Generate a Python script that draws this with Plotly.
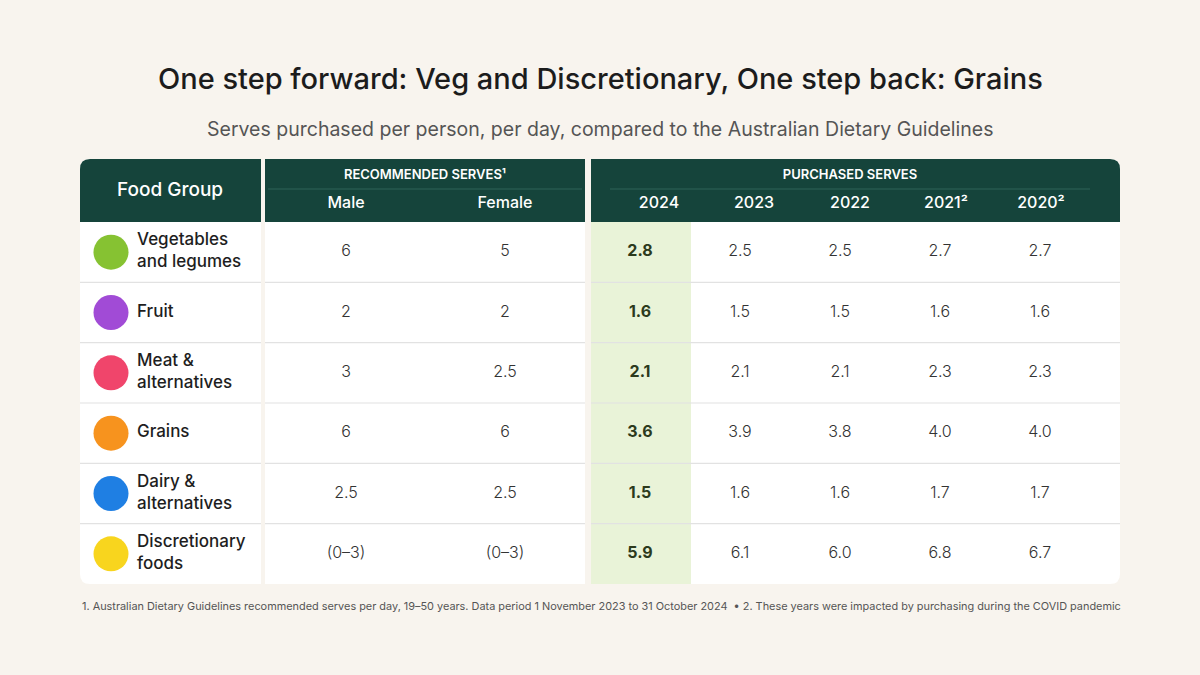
"""Serves purchased per person vs Australian Dietary Guidelines — tabla en Plotly."""

import plotly.graph_objects as go

# --- datos ---
food_groups = ["Vegetables<br>and legumes", "Fruit", "Meat &<br>alternatives",
               "Grains", "Dairy &<br>alternatives", "Discretionary<br>foods"]
rec_male = ["6", "2", "3", "6", "2.5", "(0–3)"]
rec_female = ["5", "2", "2.5", "6", "2.5", "(0–3)"]
year_labels = ["2024", "2023", "2022", "2021²", "2020²"]
p2024 = [2.8, 1.6, 2.1, 3.6, 1.5, 5.9]
p2023 = [2.5, 1.5, 2.1, 3.9, 1.6, 6.1]
p2022 = [2.5, 1.5, 2.1, 3.8, 1.6, 6.0]
p2021 = [2.7, 1.6, 2.3, 4.0, 1.7, 6.8]
p2020 = [2.7, 1.6, 2.3, 4.0, 1.7, 6.7]

title = "One step forward: Veg and Discretionary, One step back: Grains"
subtitle = "Serves purchased per person, per day, compared to the Australian Dietary Guidelines"
footnote = ("1. Australian Dietary Guidelines recommended serves per day, 19–50 years. "
            "Data period 1 November 2023 to 31 October 2024  • 2. These years were "
            "impacted by purchasing during the COVID pandemic")

# --- estilo / geometría ---
FONT = "Inter"
BG = "#F8F4EE"
GREEN = "#15443B"
icon_colors = ["#86C232", "#A14BD6", "#F0456B", "#F7931E", "#1F7FE3", "#F8D51E"]

top_head, top_body, bottom = 159, 222, 584
n_rows = len(food_groups)
row_h = (bottom - top_body) / n_rows
row_c = [top_body + row_h * (i + 0.5) for i in range(n_rows)]
panels = [(80, 261), (265, 585), (591, 1120)]
rec_x = [346, 505]
val_x = [640, 740, 840, 940, 1040]
year_x = [659, 754, 850, 946, 1041]


def rrect(x0, y0, x1, y1, tl=0, tr=0, br=0, bl=0):
    return (f"M {x0 + tl},{y0} L {x1 - tr},{y0} Q {x1},{y0} {x1},{y0 + tr} "
            f"L {x1},{y1 - br} Q {x1},{y1} {x1 - br},{y1} "
            f"L {x0 + bl},{y1} Q {x0},{y1} {x0},{y1 - bl} "
            f"L {x0},{y0 + tl} Q {x0},{y0} {x0 + tl},{y0} Z")


shapes = []
radii = [(10, 0, 0, 10), (0, 0, 0, 0), (0, 10, 10, 0)]
for (x0, x1), (tl, tr, br, bl) in zip(panels, radii):
    shapes.append(dict(type="path", path=rrect(x0, top_head, x1, bottom, tl, tr, br, bl),
                       fillcolor="white", line_width=0, layer="below"))
    shapes.append(dict(type="path", path=rrect(x0, top_head, x1, top_body, tl, tr, 0, 0),
                       fillcolor=GREEN, line_width=0, layer="below"))
# columna 2024 resaltada
shapes.append(dict(type="rect", x0=591, x1=691, y0=top_body, y1=bottom,
                   fillcolor="#E9F3D8", line_width=0, layer="below"))
# separadores de filas
for i in range(1, n_rows):
    y = top_body + row_h * i
    for x0, x1 in panels:
        shapes.append(dict(type="line", x0=x0, x1=x1, y0=y, y1=y,
                           line=dict(color="#E2E2E2", width=1.2), layer="below"))
# líneas bajo los encabezados de grupo
shapes.append(dict(type="line", x0=268, x1=582, y0=189, y1=189,
                   line=dict(color="#2F6258", width=1)))
shapes.append(dict(type="line", x0=610, x1=1090, y0=189, y1=189,
                   line=dict(color="#2F6258", width=1)))

fig = go.Figure()


def text_trace(x, y, text, size, color, pos="middle center", weight=400):
    fig.add_trace(go.Scatter(
        x=x, y=y, text=text, mode="text", textposition=pos, hoverinfo="skip",
        textfont=dict(family=FONT, size=size, color=color, weight=weight),
        showlegend=False,
    ))


# encabezados
text_trace([170], [191], ["Food Group"], 19, "white", weight=500)
text_trace([425], [176], ["RECOMMENDED SERVES¹"], 13, "white", weight=600)
text_trace([850], [176], ["PURCHASED SERVES"], 13, "white", weight=600)
text_trace(rec_x, [204, 204], ["Male", "Female"], 16, "white", weight=500)
text_trace(year_x, [204] * len(year_x), year_labels, 16, "white", weight=500)

# iconos y grupos
fig.add_trace(go.Scatter(
    x=[111] * n_rows, y=row_c, mode="markers", hoverinfo="skip", showlegend=False,
    marker=dict(size=35, color=icon_colors, line_width=0),
))
text_trace([137] * n_rows, row_c, food_groups, 17, "#1E1E1E", pos="middle right", weight=500)

# valores recomendados
text_trace([rec_x[0]] * n_rows, row_c, rec_male, 16, "#333333", weight=300)
text_trace([rec_x[1]] * n_rows, row_c, rec_female, 16, "#333333", weight=300)

# valores comprados
for j, serie in enumerate([p2024, p2023, p2022, p2021, p2020]):
    labels = [f"{v:.1f}" for v in serie]
    if j == 0:
        text_trace([val_x[j]] * n_rows, row_c, labels, 16, "#2C3A1C", weight=700)
    else:
        text_trace([val_x[j]] * n_rows, row_c, labels, 16, "#333333", weight=300)

fig.update_layout(
    width=1200, height=675,
    margin=dict(l=0, r=0, t=0, b=0),
    paper_bgcolor=BG, plot_bgcolor=BG,
    xaxis=dict(range=[0, 1200], visible=False, fixedrange=True),
    yaxis=dict(range=[675, 0], visible=False, fixedrange=True),
    shapes=shapes,
    annotations=[
        dict(text=title, x=600, y=78, xref="x", yref="y", showarrow=False,
             font=dict(family=FONT, size=29, color="#1C1C1C", weight=500)),
        dict(text=subtitle, x=600, y=129, xref="x", yref="y", showarrow=False,
             font=dict(family=FONT, size=19.5, color="#555555")),
        dict(text=footnote, x=80, y=606, xref="x", yref="y", showarrow=False,
             xanchor="left", font=dict(family=FONT, size=10.9, color="#555555")),
    ],
)

fig.write_html("out.html", config={"displayModeBar": False},
               post_script="document.body.style.margin = '0';")
